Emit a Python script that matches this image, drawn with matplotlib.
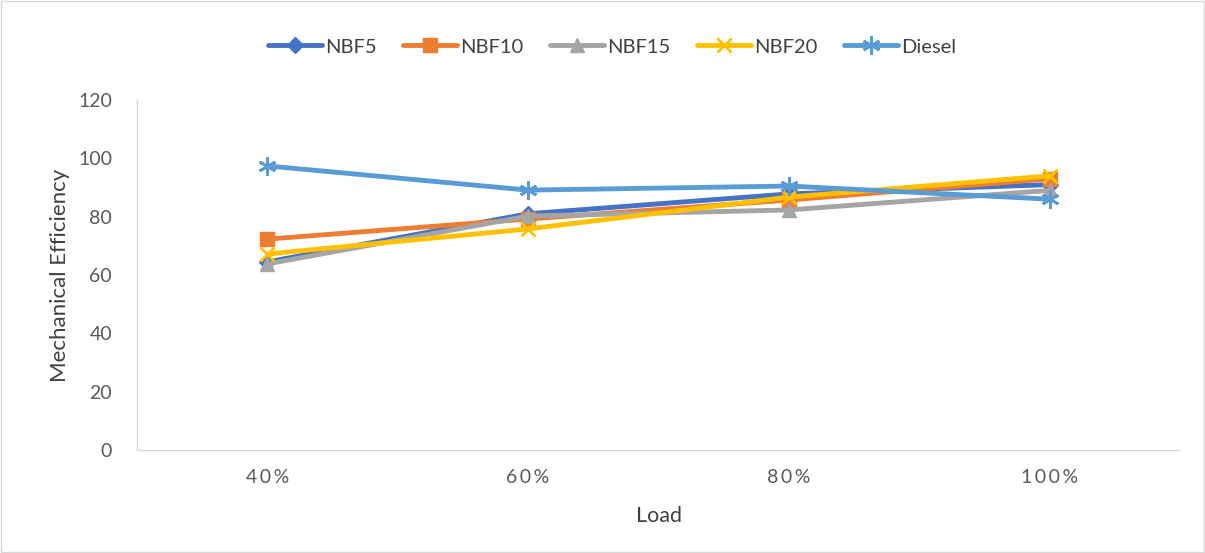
import matplotlib
matplotlib.use("Agg")
import matplotlib.pyplot as plt
from matplotlib.patches import Rectangle

categories = ["40%", "60%", "80%", "100%"]
nbf5 = [64.5, 81, 87.8, 91]
nbf10 = [72.3, 79.2, 85.7, 93]
nbf15 = [63.8, 80.2, 82.3, 89]
nbf20 = [67.2, 75.8, 86.7, 94]
diesel = [97.4, 89.1, 90.5, 86]
yticks = [0, 20, 40, 60, 80, 100, 120]

plt.rcParams['font.family'] = ['Lato', 'DejaVu Sans']
W, H = 1205, 553
fig = plt.figure(figsize=(W/100, H/100), dpi=100)
ax = fig.add_axes([137/W, 1-450/H, (1180-137)/W, 350/H])

x = list(range(len(categories)))
series = [
    ("NBF5", nbf5, "#4472C4", "D", 8),
    ("NBF10", nbf10, "#ED7D31", "s", 10),
    ("NBF15", nbf15, "#A5A5A5", "^", 10),
    ("NBF20", nbf20, "#FFC000", "x", 10),
    ("Diesel", diesel, "#5B9BD5", (6, 2, 0), 13),
]
for name, vals, c, m, ms in series:
    ax.plot(x, vals, color=c, lw=3.5, marker=m, markersize=ms,
            markeredgewidth=2 if m in ("x",) or isinstance(m, tuple) else 1,
            markeredgecolor=c, markerfacecolor=c, label=name,
            solid_capstyle='round')

ax.set_xlim(-0.5, 3.5)
ax.set_ylim(0, 120)
ax.set_yticks(yticks)
ax.set_xticks(x)
ax.set_xticklabels(["\u2009".join(list(c)) for c in categories])
ax.tick_params(axis='both', length=0, labelsize=14, colors="#595959")
ax.tick_params(axis='y', pad=18)
ax.tick_params(axis='x', pad=14)
for s in ["top", "right"]:
    ax.spines[s].set_visible(False)
for s in ["left", "bottom"]:
    ax.spines[s].set_color("#D9D9D9")
    ax.spines[s].set_linewidth(1)
ax.set_ylabel("Mechanical Efficiency", fontsize=16, color="#404040", labelpad=6)
ax.set_xlabel("Load", fontsize=15.5, color="#404040", labelpad=14)

leg = fig.legend(loc="center", bbox_to_anchor=(612/W, 1-47/H), ncol=5, frameon=False,
                 fontsize=14.5, handlelength=2.7, columnspacing=1.3, handletextpad=0.15,
                 labelcolor="#404040")

fig.patches.append(Rectangle((1/W, 1/H), 1-2/W, 1-2/H, transform=fig.transFigure,
                             fill=False, edgecolor="#D9D9D9", lw=1))
fig.savefig("out.png", dpi=100)
